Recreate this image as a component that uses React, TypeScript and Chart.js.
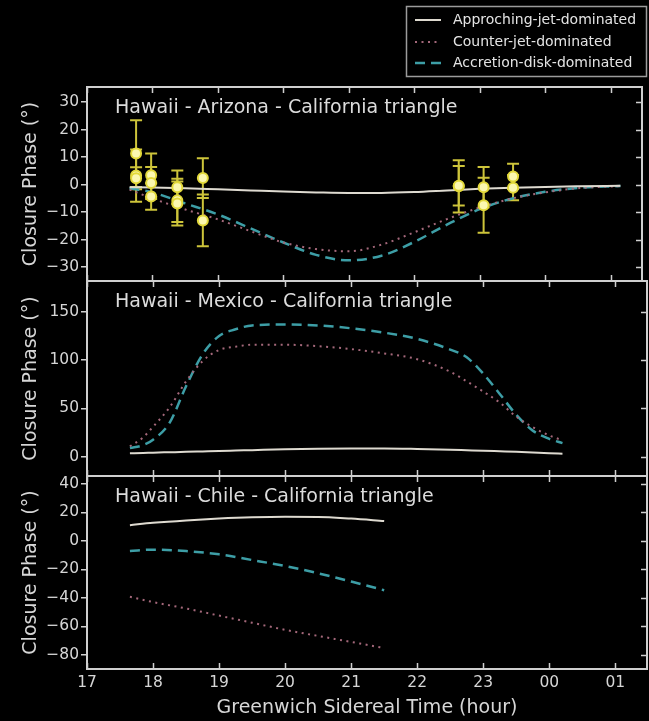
import React, { useEffect, useRef } from "react";
import { Chart, registerables } from "chart.js";

Chart.register(...registerables);

// ---------------- data ----------------
const hourTicks = [17, 18, 19, 20, 21, 22, 23, 24, 25];
const hourLabels = ["17", "18", "19", "20", "21", "22", "23", "00", "01"];
const seriesNames = ["Approching-jet-dominated", "Counter-jet-dominated", "Accretion-disk-dominated"];
const panelTitles = [
  "Hawaii - Arizona - California triangle",
  "Hawaii - Mexico - California triangle",
  "Hawaii - Chile - California triangle",
];
const yTitle = "Closure Phase (°)";
const xTitle = "Greenwich Sidereal Time (hour)";

// Hawaii - Arizona - California
const azHours = [17.65, 18.0, 18.5, 19.0, 19.5, 20.0, 20.5, 21.0, 21.5, 22.0, 22.5, 23.0, 23.5, 24.0, 24.5, 25.15];
const azApproach = [-0.9, -1.0, -1.3, -1.7, -2.1, -2.5, -2.8, -3.0, -3.0, -2.7, -2.1, -1.5, -1.1, -0.8, -0.6, -0.4];
const azCounter = [-1.8, -5.0, -9.0, -12.6, -16.9, -21.0, -23.4, -24.2, -21.8, -17.3, -12.5, -8.3, -5.0, -2.8, -1.3, -0.5];
const azDisk = [-1.3, -2.8, -6.8, -10.8, -15.9, -21.0, -25.5, -27.5, -25.8, -20.8, -14.5, -8.9, -5.0, -2.6, -1.2, -0.5];
const azTicks = [-30, -20, -10, 0, 10, 20, 30];

// measured closure phases (Arizona triangle)
const obsHours = [17.75, 17.75, 17.75, 17.98, 17.98, 17.98, 18.38, 18.38, 18.38, 18.77, 18.77, 22.68, 22.68, 23.06, 23.06, 23.51, 23.51];
const obsPhase = [11.3, 3.3, 2.3, 3.4, 0.6, -4.3, -0.9, -5.7, -6.8, 2.4, -13.0, -0.6, -0.4, -0.9, -7.5, 3.0, -1.1];
const obsError = [12.1, 9.5, 4.0, 7.9, 5.8, 4.8, 6.1, 7.9, 8.0, 7.2, 9.4, 9.5, 7.2, 7.3, 10.0, 4.6, 4.6];

// Hawaii - Mexico - California
const mxHours = [17.65, 17.85, 18.0, 18.25, 18.5, 18.75, 19.0, 19.25, 19.5, 20.0, 20.5, 21.0, 21.5, 22.0, 22.5, 22.75, 23.0, 23.25, 23.5, 23.75, 24.0, 24.2];
const mxApproach = [3.5, 3.8, 4.2, 4.6, 5.0, 5.5, 6.0, 6.4, 6.8, 7.6, 8.2, 8.5, 8.5, 8.0, 7.2, 6.7, 6.2, 5.6, 5.0, 4.3, 3.6, 3.0];
const mxCounter = [10.7, 20.0, 31.0, 51.0, 78.0, 99.0, 110.5, 114.0, 116.0, 116.0, 114.5, 111.5, 107.0, 101.0, 88.0, 78.0, 67.5, 56.0, 41.5, 30.5, 22.0, 17.0];
const mxDisk = [9.0, 12.0, 17.6, 35.0, 73.0, 106.0, 125.0, 132.0, 136.0, 137.0, 136.0, 133.0, 128.5, 122.0, 111.0, 103.0, 86.0, 65.0, 43.5, 27.0, 18.5, 14.0];
const mxTicks = [0, 50, 100, 150];

// Hawaii - Chile - California
const clHours = [17.65, 18.0, 18.5, 19.0, 19.5, 20.0, 20.5, 21.0, 21.5];
const clApproach = [11.0, 12.6, 14.3, 15.6, 16.5, 16.9, 16.8, 15.6, 13.9];
const clCounter = [-39.3, -43.0, -47.5, -52.5, -57.5, -62.5, -66.8, -71.0, -75.3];
const clDisk = [-7.2, -6.2, -7.2, -9.5, -13.5, -17.7, -22.8, -28.6, -34.7];
const clTicks = [-80, -60, -40, -20, 0, 20, 40];

// ---------------- style ----------------
const FONT = '"DejaVu Sans", "Liberation Sans", sans-serif';
const TEXT = "#d6d6d6";
const SPINE = "#cfcfcf";
const C_APPROACH = "#dedad0";
const C_COUNTER = "#a4687a";
const C_DISK = "#3d9ea6";

type PanelSpec = {
  title: string;
  hours: number[];
  approach: number[];
  counter: number[];
  disk: number[];
  min: number;
  max: number;
  ticks: number[];
  top: number;
  height: number;
  padTop: number;
  padBottom: number;
  showX: boolean;
  legend: boolean;
  obs: boolean;
};

const panels: PanelSpec[] = [
  { title: panelTitles[0], hours: azHours, approach: azApproach, counter: azCounter, disk: azDisk, min: -35, max: 35.5, ticks: azTicks, top: 0, height: 300, padTop: 87, padBottom: 19, showX: false, legend: true, obs: true },
  { title: panelTitles[1], hours: mxHours, approach: mxApproach, counter: mxCounter, disk: mxDisk, min: -20, max: 182, ticks: mxTicks, top: 262, height: 230, padTop: 19, padBottom: 16, showX: false, legend: false, obs: false },
  { title: panelTitles[2], hours: clHours, approach: clApproach, counter: clCounter, disk: clDisk, min: -90, max: 45.5, ticks: clTicks, top: 457, height: 264, padTop: 19, padBottom: 0, showX: true, legend: false, obs: false },
];

const toXY = (xs: number[], ys: number[]) => xs.map((x, i) => ({ x, y: ys[i] }));

const decoPlugin = {
  id: "deco",
  beforeDatasetsDraw(chart: any, _a: any, opts: any) {
    if (!opts.obs) return;
    const { ctx } = chart;
    const x = chart.scales.x;
    const y = chart.scales.y;
    ctx.save();
    ctx.strokeStyle = "#cdc43a";
    ctx.lineWidth = 2;
    obsHours.forEach((h, i) => {
      const px = x.getPixelForValue(h);
      const y1 = y.getPixelForValue(obsPhase[i] + obsError[i]);
      const y2 = y.getPixelForValue(obsPhase[i] - obsError[i]);
      ctx.beginPath();
      ctx.moveTo(px, y1);
      ctx.lineTo(px, y2);
      ctx.moveTo(px - 6, y1);
      ctx.lineTo(px + 6, y1);
      ctx.moveTo(px - 6, y2);
      ctx.lineTo(px + 6, y2);
      ctx.stroke();
    });
    ctx.restore();
  },
  afterDraw(chart: any, _a: any, opts: any) {
    const { ctx, chartArea } = chart;
    const { left, right, top, bottom } = chartArea;
    const x = chart.scales.x;
    const y = chart.scales.y;
    ctx.save();
    // frame
    ctx.strokeStyle = SPINE;
    ctx.lineWidth = 2;
    ctx.strokeRect(left, top, right - left, bottom - top);
    // inward ticks top / bottom / right
    ctx.lineWidth = 1.5;
    ctx.beginPath();
    hourTicks.forEach((h) => {
      const px = Math.round(x.getPixelForValue(h)) + 0.5;
      ctx.moveTo(px, top);
      ctx.lineTo(px, top + 6);
      ctx.moveTo(px, bottom);
      ctx.lineTo(px, bottom - 6);
    });
    (opts.ticks as number[]).forEach((v) => {
      const py = Math.round(y.getPixelForValue(v)) + 0.5;
      ctx.moveTo(right, py);
      ctx.lineTo(right - 6, py);
    });
    ctx.stroke();
    // panel title
    ctx.fillStyle = "#dcdcdc";
    ctx.font = `19px ${FONT}`;
    ctx.textBaseline = "alphabetic";
    ctx.textAlign = "left";
    ctx.fillText(opts.title, 115, top + 26);
    // legend
    if (opts.legend) {
      ctx.fillStyle = "#000";
      ctx.fillRect(406, 6, 241, 71);
      ctx.strokeStyle = "#9c9c9c";
      ctx.lineWidth = 1.5;
      ctx.strokeRect(406.5, 6.5, 240, 70);
      const rows = [20, 42, 63];
      const ds = chart.data.datasets.filter((d: any) => seriesNames.includes(d.label));
      ds.forEach((d: any, i: number) => {
        const ry = rows[i];
        ctx.strokeStyle = d.borderColor;
        ctx.lineWidth = d.borderWidth;
        ctx.setLineDash(d.borderDash || []);
        ctx.beginPath();
        ctx.moveTo(415, ry);
        ctx.lineTo(441, ry);
        ctx.stroke();
        ctx.setLineDash([]);
        ctx.fillStyle = "#e4e4e4";
        ctx.font = `14px ${FONT}`;
        ctx.textBaseline = "middle";
        ctx.fillText(d.label, 453, ry);
      });
    }
    ctx.restore();
  },
};

function buildConfig(p: PanelSpec): any {
  const datasets: any[] = [
    {
      label: seriesNames[0],
      data: toXY(p.hours, p.approach),
      borderColor: C_APPROACH,
      borderWidth: 2,
      borderDash: [],
      pointRadius: 0,
      fill: false,
      cubicInterpolationMode: "monotone",
      order: 1,
    },
    {
      label: seriesNames[1],
      data: toXY(p.hours, p.counter),
      borderColor: C_COUNTER,
      borderWidth: 2,
      borderDash: [2, 4.5],
      pointRadius: 0,
      fill: false,
      cubicInterpolationMode: "monotone",
      order: 2,
    },
    {
      label: seriesNames[2],
      data: toXY(p.hours, p.disk),
      borderColor: C_DISK,
      borderWidth: 2.5,
      borderDash: [10, 6],
      pointRadius: 0,
      fill: false,
      cubicInterpolationMode: "monotone",
      order: 3,
    },
  ];
  if (p.obs) {
    datasets.push({
      label: "observed",
      data: toXY(obsHours, obsPhase),
      showLine: false,
      pointRadius: 5,
      pointBackgroundColor: "#fbf7b0",
      pointBorderColor: "#e2d83a",
      pointBorderWidth: 2,
      order: 0,
    });
  }
  return {
    type: "line",
    data: { datasets },
    options: {
      animation: false,
      responsive: false,
      devicePixelRatio: 1,
      events: [],
      layout: { padding: { top: p.padTop, bottom: p.padBottom, left: 0, right: 2 } },
      plugins: {
        legend: { display: false },
        tooltip: { enabled: false },
        deco: { title: p.title, legend: p.legend, obs: p.obs, ticks: p.ticks },
      },
      scales: {
        x: {
          type: "linear",
          min: 17,
          max: 25.48,
          display: p.showX,
          afterBuildTicks: (s: any) => {
            s.ticks = hourTicks.map((v) => ({ value: v }));
          },
          afterFit: (s: any) => {
            s.height = p.showX ? 52 : 0;
          },
          ticks: {
            autoSkip: false,
            maxRotation: 0,
            padding: 5,
            color: TEXT,
            font: { family: FONT, size: 15.5 },
            callback: (v: any) => {
              const i = hourTicks.indexOf(Number(v));
              return i >= 0 ? hourLabels[i] : "";
            },
          },
          grid: { display: false, drawTicks: false },
          border: { display: false },
          title: {
            display: true,
            text: xTitle,
            color: TEXT,
            font: { family: FONT, size: 19 },
            padding: { top: 0, bottom: 2 },
          },
        },
        y: {
          type: "linear",
          min: p.min,
          max: p.max,
          afterBuildTicks: (s: any) => {
            s.ticks = p.ticks.map((v) => ({ value: v }));
          },
          afterFit: (s: any) => {
            s.width = 87;
          },
          ticks: {
            autoSkip: false,
            padding: 2,
            color: TEXT,
            font: { family: FONT, size: 15.5 },
            callback: (v: any) => (Number(v) < 0 ? "\u2212" + Math.abs(Number(v)) : String(v)),
          },
          grid: { display: true, drawOnChartArea: false, drawTicks: true, tickLength: 6, color: SPINE, lineWidth: 1.5 },
          border: { display: false },
          title: {
            display: true,
            text: yTitle,
            color: TEXT,
            font: { family: FONT, size: 19 },
            padding: { top: 20, bottom: 0 },
          },
        },
      },
    },
    plugins: [decoPlugin],
  };
}

function Panel({ spec }: { spec: PanelSpec }) {
  const ref = useRef<HTMLCanvasElement>(null);
  useEffect(() => {
    if (!ref.current) return;
    const chart = new Chart(ref.current, buildConfig(spec));
    return () => chart.destroy();
  }, [spec]);
  return (
    <canvas
      ref={ref}
      width={649}
      height={spec.height}
      style={{ position: "absolute", left: 0, top: spec.top, width: 649, height: spec.height }}
    />
  );
}

export default function App() {
  useEffect(() => {
    document.body.style.margin = "0";
    document.body.style.background = "#000";
  }, []);
  return (
    <div
      style={{
        position: "absolute",
        left: 0,
        top: 0,
        width: 649,
        height: 721,
        background: "#000",
        overflow: "hidden",
      }}
    >
      {panels.map((p, i) => (
        <Panel key={i} spec={p} />
      ))}
    </div>
  );
}
